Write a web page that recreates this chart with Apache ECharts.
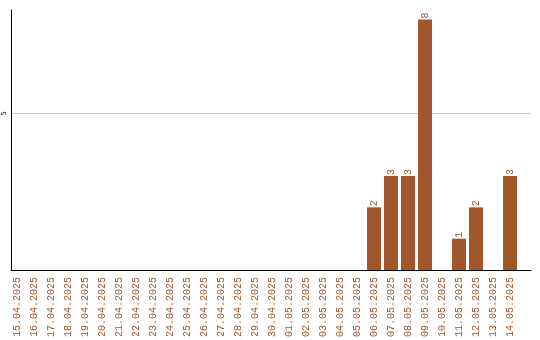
<!DOCTYPE html>
<html><head><meta charset="utf-8">
<script src="https://cdn.jsdelivr.net/npm/echarts@6/dist/echarts.min.js"></script>
<style>html,body{margin:0;padding:0;background:#fff}#c{width:540px;height:340px}</style>
</head><body><div id="c"></div>
<script>
const categories = ['15.04.2025','16.04.2025','17.04.2025','18.04.2025','19.04.2025','20.04.2025','21.04.2025','22.04.2025','23.04.2025','24.04.2025','25.04.2025','26.04.2025','27.04.2025','28.04.2025','29.04.2025','30.04.2025','01.05.2025','02.05.2025','03.05.2025','04.05.2025','05.05.2025','06.05.2025','07.05.2025','08.05.2025','09.05.2025','10.05.2025','11.05.2025','12.05.2025','13.05.2025','14.05.2025'];
const values = [0,0,0,0,0,0,0,0,0,0,0,0,0,0,0,0,0,0,0,0,0,2,3,3,8,0,1,2,0,3];
const yMax = 8.3;
const yInterval = 5;
const color = '#a0572b';

const chart = echarts.init(document.getElementById('c'));
chart.setOption({
  animation: false,
  grid: [
    {left: 11, right: 9, top: 10, bottom: 70},
    {left: 8.5, right: 21.5, top: 10, bottom: 70}
  ],
  xAxis: [
    {gridIndex: 0, type: 'value', min: 0, max: 1,
     axisLine: {show: true, lineStyle: {color: '#000', width: 1}},
     axisTick: {show: false}, axisLabel: {show: false}, splitLine: {show: false}},
    {gridIndex: 1, type: 'category', data: categories,
     axisLine: {show: false}, axisTick: {show: false},
     axisLabel: {interval: 0, rotate: 90, margin: 7, fontFamily: 'Liberation Mono', fontSize: 10, color: color}}
  ],
  yAxis: [
    {gridIndex: 0, type: 'value', min: 0, max: yMax, interval: yInterval,
     axisLine: {show: true, lineStyle: {color: '#000', width: 1}},
     axisTick: {show: false},
     axisLabel: {rotate: 90, fontSize: 7, color: '#000', margin: 3, showMinLabel: false, showMaxLabel: false, fontFamily: 'DejaVu Sans Mono'},
     splitLine: {show: true, lineStyle: {color: ['rgba(0,0,0,0)', '#cccccc', 'rgba(0,0,0,0)'], width: 1}}},
    {gridIndex: 1, type: 'value', min: 0, max: yMax, show: false, splitLine: {show: false}}
  ],
  series: [{
    type: 'bar', xAxisIndex: 1, yAxisIndex: 1, data: values, barWidth: 14,
    itemStyle: {color: color},
    label: {show: true, position: 'top', rotate: 90, align: 'left', verticalAlign: 'middle', distance: 1,
      fontFamily: 'Liberation Mono', fontSize: 10, color: color,
      formatter: p => p.value > 0 ? String(p.value) : ''}
  }]
});
</script></body></html>
